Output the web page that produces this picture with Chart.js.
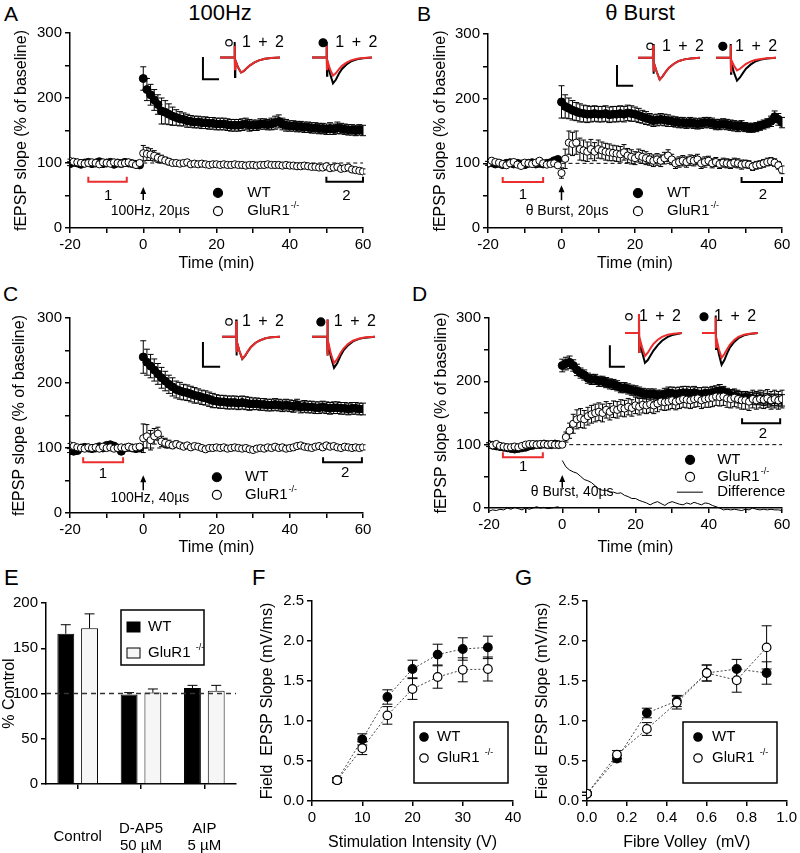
<!DOCTYPE html>
<html>
<head>
<meta charset="utf-8">
<script src="https://cdn.jsdelivr.net/npm/chart.js@4.4.1/dist/chart.umd.min.js"></script>
<style>
  body { margin: 0; background: #fff; width: 800px; height: 853px; position: relative; overflow: hidden;
         font-family: 'Liberation Sans', Arial, sans-serif; color: #000; }
  canvas { position: absolute; }
  .txt { position: absolute; line-height: 1; white-space: nowrap; }
</style>
</head>
<body>
<div class="txt" style="left:4px;top:3px;font-size:21px">A</div>
<div class="txt" style="left:417px;top:3px;font-size:21px">B</div>
<div class="txt" style="left:3px;top:283px;font-size:21px">C</div>
<div class="txt" style="left:412px;top:283px;font-size:21px">D</div>
<div class="txt" style="left:4px;top:567px;font-size:22px">E</div>
<div class="txt" style="left:252px;top:567px;font-size:22px">F</div>
<div class="txt" style="left:515px;top:567px;font-size:22px">G</div>
<div class="txt" style="left:160px;top:2px;width:120px;text-align:center;font-size:22px">100Hz</div>
<div class="txt" style="left:580px;top:2px;width:120px;text-align:center;font-size:22px">θ Burst</div>

<canvas id="cA" width="800" height="853"></canvas>
<canvas id="cB" width="800" height="853"></canvas>
<canvas id="cC" width="800" height="853"></canvas>
<canvas id="cD" width="800" height="853"></canvas>
<canvas id="cE" width="800" height="853"></canvas>
<canvas id="cF" width="800" height="853"></canvas>
<canvas id="cG" width="800" height="853"></canvas>

<canvas id="iA1" width="60" height="44" style="left:220px;top:42px"></canvas>
<canvas id="iA2" width="60" height="44" style="left:312px;top:42px"></canvas>
<canvas id="iB1" width="62" height="39" style="left:638px;top:44px"></canvas>
<canvas id="iB2" width="60" height="39" style="left:716px;top:44px"></canvas>
<canvas id="iC1" width="58" height="53" style="left:222px;top:318px"></canvas>
<canvas id="iC2" width="63" height="53" style="left:312px;top:318px"></canvas>
<canvas id="iD1" width="57" height="54" style="left:625px;top:314px"></canvas>
<canvas id="iD2" width="56" height="54" style="left:702px;top:314px"></canvas>

<script>
// time axis (min) shared by panels A-D
const minutes = [-20,-19,-18,-17,-16,-15,-14,-13,-12,-11,-10,-9,-8,-7,-6,-5,-4,-3,-2,-1,
  0,1,2,3,4,5,6,7,8,9,10,11,12,13,14,15,16,17,18,19,20,21,22,23,24,25,26,27,28,29,
  30,31,32,33,34,35,36,37,38,39,40,41,42,43,44,45,46,47,48,49,50,51,52,53,54,55,56,57,58,59,60];

// A: 100Hz, 20us
const aWT = [99,101,100,98,100,101,99,100,102,99,100,101,98,100,99,101,100,99,98,97,
  230,213,205,197,190,180,178,175,172,170, 168,167,165,164,163,163,162,162,161,161,
  160,160,160,159,158,158,158,159,160,158, 158,158,160,160,159,160,162,164,160,158,
  157,157,156,156,155,155,154,154,153,153, 152,153,152,154,153,152,151,151,150,151, 150];
const aWTErr = [3,3,3,3,3,3,3,3,3,3,3,3,3,3,3,3,3,3,3,3,
  18,17,16,16,15,20,18,16,14,12, 11,10,10,9,9,9,9,9,9,9, 9,9,9,9,9,9,9,9,9,9,
  8,8,8,8,8,9,10,10,9,9, 8,8,8,8,8,8,8,8,8,8, 8,9,8,9,8,8,8,8,8,8, 8];
const aKO = [103,102,101,100,99,100,101,100,98,101,100,99,101,100,99,100,101,99,97,100,
  115,114,113,111,108,106,104,102,100,100, 99,100,101,98,99,98,99,98,97,98,
  98,97,98,97,97,98,97,97,96,97, 97,96,97,97,98,97,97,97,96,97,
  96,96,95,95,96,95,94,94,93,93, 95,92,93,94,91,92,93,90,89,88, 87];
const aKOErr = [3,3,3,3,3,3,3,3,3,3,3,3,3,3,3,3,3,3,3,3,
  12,10,9,8,7,6,5,5,4,4, 4,4,4,4,4,4,4,4,4,4, 4,4,4,4,4,4,4,4,4,4,
  4,4,4,4,4,4,4,4,4,4, 4,4,4,4,4,4,4,4,4,4, 4,4,4,4,4,4,4,4,4,4, 4];

// B: theta burst, 20us
const bWT = [100,101,99,100,98,100,101,99,100,99,98,100,101,99,100,99,100,101,104,106,
  195,188,185,182,180,178,177,176,176,177, 176,176,177,175,176,176,177,176,178,177,
  176,174,172,170,168,166,167,168,167,166, 165,164,163,163,162,163,162,161,162,163,
  163,162,160,160,161,160,159,158,157,158, 156,155,155,156,158,160,162,165,172,168, 163];
const bWTErr = [3,3,3,3,3,3,3,3,3,3,3,3,3,3,3,3,3,3,3,3,
  25,18,16,15,14,14,13,13,12,12, 12,12,12,12,12,12,12,12,12,12, 11,11,10,10,9,9,9,9,9,9,
  8,8,8,8,8,8,8,8,8,8, 8,8,8,8,8,8,8,8,8,8, 7,7,7,7,7,7,7,8,9,9, 8];
const bKO = [100,104,102,101,99,97,100,102,98,96,101,100,99,101,104,100,98,99,100,97,
  85,107,132,130,132,122,120,118,122,118, 122,120,118,117,116,115,114,117,112,110,
  108,112,110,108,106,104,106,104,108,112, 106,100,102,104,102,105,104,106,100,102,
  104,100,102,99,101,100,99,101,100,98, 99,98,95,97,98,100,102,103,101,97, 90];
const bKOErr = [3,3,3,3,3,3,3,3,3,3,3,3,3,3,3,3,3,3,3,3,
  8,15,18,18,18,17,16,15,15,14, 14,13,13,13,12,12,12,12,11,11, 10,10,10,10,9,9,9,9,9,9,
  8,8,8,8,8,8,8,8,8,8, 7,7,7,7,7,7,7,7,7,7, 6,6,6,6,6,6,6,6,6,6, 6];

// C: 100Hz, 40us
const cWT = [96,95,96,100,101,100,99,100,102,100,104,105,103,100,95,100,101,100,99,100,
  240,232,226,220,214,208,203,198,194,190, 188,186,185,183,181,180,178,177,175,173,
  172,171,171,170,170,170,169,170,169,168, 168,168,167,167,166,166,167,166,165,166,
  165,164,166,163,164,163,163,162,162,163, 162,161,162,162,161,161,160,161,161,160, 160];
const cWTErr = [3,3,3,3,3,3,3,3,3,3,3,3,3,3,3,3,3,3,3,3,
  25,20,18,17,16,16,15,14,14,13, 13,12,12,12,12,11,11,11,11,11, 10,10,10,10,10,10,10,10,10,10,
  9,9,9,9,9,9,9,9,9,9, 9,9,9,9,9,9,9,9,9,9, 9,9,9,9,9,9,9,9,9,9, 9];
const cKO = [104,103,101,100,99,101,100,101,99,102,100,101,99,100,101,100,102,100,101,102,
  115,118,112,118,122,110,108,106,104,106, 104,102,104,101,103,102,100,98,100,100,
  101,100,101,99,100,101,100,99,100,98, 97,99,100,99,101,100,102,100,101,99,
  100,101,103,104,102,101,100,102,103,101, 104,102,103,101,100,102,101,100,101,100, 101];
const cKOErr = [3,3,3,3,3,3,3,3,3,3,3,3,3,3,3,3,3,3,3,3,
  22,18,15,12,10,8,7,6,5,5, 4,4,4,4,4,4,4,4,4,4, 4,4,4,4,4,4,4,4,4,4,
  4,4,4,4,4,4,4,4,4,4, 4,4,4,4,4,4,4,4,4,4, 4,4,4,4,4,4,4,4,4,4, 4];

// D: theta burst, 40us
const dWT = [100,99,98,97,96,95,94,93,94,95,96,98,99,100,100,101,100,100,101,100,
  225,228,230,225,218,213,210,205,203,203, 200,200,198,196,195,193,190,190,188,186,
  185,183,181,180,180,180,178,178,180,182, 181,180,181,182,182,181,182,180,180,181,
  180,182,183,185,183,180,178,177,175,174, 175,174,173,172,173,171,172,170,171,170, 170];
const dWTErr = [3,3,3,3,3,3,3,3,3,3,3,3,3,3,3,3,3,3,3,3,
  10,10,10,9,9,8,8,8,8,8, 8,8,8,8,8,8,8,8,8,8, 8,8,8,8,8,8,8,8,9,9,
  10,10,10,10,10,10,10,10,10,10, 10,10,10,10,9,9,9,9,9,9, 9,9,9,9,9,9,9,9,9,9, 9];
const dKO = [100,99,101,98,97,96,96,97,96,98,100,101,101,100,101,101,100,101,100,100,
  100,112,122,133,140,142,140,145,148,150, 152,150,155,152,156,155,158,157,160,158,
  162,160,163,162,164,162,165,168,167,168, 170,168,170,172,171,170,172,173,170,172,
  173,174,176,175,176,173,172,174,172,170, 170,168,172,170,172,171,173,170,172,170, 172];
const dKOErr = [3,3,3,3,3,3,3,3,3,3,3,3,3,3,3,3,3,3,3,3,
  4,8,12,15,15,15,14,14,14,14, 14,14,13,13,13,13,13,13,13,13, 13,13,13,13,13,13,13,13,13,13,
  13,13,13,13,13,13,13,13,13,13, 14,14,14,14,14,14,14,14,14,14, 14,14,14,14,14,14,14,14,14,14, 14];
const dDiffPre = [-5,-3,-4,-2,-3,0,-2,1,-1,-3,0,-2,0,2,0,1,-1,0,1,2];
const dDiffPost = [75,65,60,57,55,50,45,43,40,35, 30,28,28,25,25,23,24,20,18,15,
  15,12,10,8,5,8,10,7,4,8, 10,8,6,5,8,6,9,7,5,8, 7,4,2,0,-3,-2,-3,-2,-3,-4,
  -2,-3,0,-2,-3,-2,-3,-2,-3,-3, -4];

// E: % control
const eCats = [['Control'], ['D-AP5', '50 µM'], ['AIP', '5 µM']];
const eWT = [166, 99, 106];
const eWTErr = [10, 2, 3];
const eKO = [172, 101, 103];
const eKOErr = [16, 4, 6];

// F: input-output vs stimulation intensity
const stimV = [5, 10, 15, 20, 25, 30, 35];
const fWT = [0.26, 0.77, 1.30, 1.65, 1.83, 1.90, 1.92];
const fWTErr = [0.03, 0.07, 0.09, 0.11, 0.13, 0.14, 0.14];
const fKO = [0.26, 0.66, 1.07, 1.40, 1.55, 1.64, 1.65];
const fKOErr = [0.03, 0.08, 0.11, 0.13, 0.14, 0.15, 0.15];

// G: vs fibre volley
const volley = [0, 0.15, 0.30, 0.45, 0.60, 0.75, 0.90];
const gWT = [0.09, 0.53, 1.10, 1.25, 1.60, 1.65, 1.60];
const gWTErr = [0.02, 0.04, 0.06, 0.07, 0.10, 0.12, 0.14];
const gKO = [0.09, 0.58, 0.90, 1.23, 1.60, 1.51, 1.92];
const gKOErr = [0.02, 0.05, 0.08, 0.08, 0.10, 0.15, 0.27];

// example traces (1 = red, before; 2 = black, after)
const traceT = [0, 3, 4.8, 4.9, 5.0, 5.1, 6, 7, 8, 9, 10, 11.5, 13, 15, 17, 20];
const trA1red = [0,0,0,0.45,-0.45,-0.1,-0.38,-0.58,-0.52,-0.4,-0.3,-0.19,-0.11,-0.05,-0.02,0];
const trA1blk = [0,0,0,0.6,-0.75,-0.1,-0.38,-0.58,-0.52,-0.4,-0.3,-0.19,-0.11,-0.05,-0.02,0];
const trA2red = [0,0,0,0.45,-0.45,-0.1,-0.45,-0.7,-0.6,-0.45,-0.32,-0.2,-0.11,-0.05,-0.02,0];
const trA2blk = [0,0,0,0.6,-0.7,-0.15,-0.62,-1.0,-0.85,-0.62,-0.44,-0.27,-0.15,-0.07,-0.03,0];
const trB1red = [0,0,0,0.55,-0.6,-0.2,-0.6,-0.95,-0.8,-0.6,-0.43,-0.27,-0.15,-0.07,-0.03,0];
const trB1blk = [0,0,0,0.6,-0.7,-0.2,-0.6,-0.95,-0.8,-0.6,-0.43,-0.27,-0.15,-0.07,-0.03,0];
const trB2red = [0,0,0,0.55,-0.6,-0.1,-0.35,-0.55,-0.48,-0.37,-0.27,-0.17,-0.1,-0.05,-0.02,0];
const trB2blk = [0,0,0,0.6,-0.7,-0.2,-0.65,-1.0,-0.86,-0.66,-0.48,-0.3,-0.17,-0.08,-0.03,0];
const trC1red = [0,0,0,0.5,-0.5,-0.15,-0.45,-0.7,-0.6,-0.45,-0.33,-0.2,-0.12,-0.05,-0.02,0];
const trC1blk = [0,0,0,0.55,-0.6,-0.15,-0.46,-0.72,-0.61,-0.46,-0.33,-0.2,-0.12,-0.05,-0.02,0];
const trC2red = [0,0,0,0.55,-0.6,-0.15,-0.55,-0.85,-0.72,-0.53,-0.38,-0.23,-0.13,-0.06,-0.02,0];
const trC2blk = [0,0,0,0.55,-0.6,-0.2,-0.65,-1.0,-0.85,-0.62,-0.44,-0.27,-0.15,-0.07,-0.03,0];
const trD1red = [0,0,0,0.6,-0.6,-0.15,-0.45,-0.72,-0.62,-0.47,-0.34,-0.21,-0.12,-0.05,-0.02,0];
const trD1blk = [0,0,0,0.6,-0.6,-0.2,-0.6,-0.94,-0.85,-0.7,-0.55,-0.38,-0.24,-0.12,-0.05,0];
const trD2red = [0,0,0,0.5,-0.45,-0.15,-0.5,-0.78,-0.66,-0.5,-0.36,-0.22,-0.12,-0.05,-0.02,0];
const trD2blk = [0,0,0,0.55,-0.5,-0.2,-0.65,-1.0,-0.85,-0.63,-0.45,-0.28,-0.16,-0.07,-0.03,0];

const FONT = "'Liberation Sans', Arial, sans-serif";
const RED = '#ec2d2d';
Chart.defaults.font.family = FONT;
Chart.defaults.color = '#000';

const pts = (xs, ys) => xs.map((x, i) => ({ x: x, y: ys[i] }));

// error bars for any dataset that carries an `errors` array
Chart.register({
  id: 'errorBars',
  beforeDatasetsDraw(chart) {
    const ctx = chart.ctx;
    chart.data.datasets.forEach((ds, di) => {
      if (!ds.errors) return;
      const meta = chart.getDatasetMeta(di);
      const ys = chart.scales[meta.yAxisID];
      ctx.save();
      ctx.strokeStyle = '#000';
      ctx.lineWidth = ds.errWidth || 1;
      meta.data.forEach((el, i) => {
        const raw = ds.data[i];
        const v = (raw && typeof raw === 'object') ? raw.y : raw;
        const e = ds.errors[i];
        if (v == null || !e) return;
        const x = el.x, c = ds.capHalf || 3;
        const yT = ys.getPixelForValue(v + e);
        const yB = ys.getPixelForValue(ds.errDir === 'up' ? v : v - e);
        ctx.beginPath();
        ctx.moveTo(x, yT); ctx.lineTo(x, yB);
        ctx.moveTo(x - c, yT); ctx.lineTo(x + c, yT);
        if (ds.errDir !== 'up') { ctx.moveTo(x - c, yB); ctx.lineTo(x + c, yB); }
        ctx.stroke();
      });
      ctx.restore();
    });
  }
});

function frame(g) {
  return { left: g.L - g.W, top: g.T, right: 800 - g.R, bottom: 853 - g.B - g.H };
}

function linAxis(min, max, step, every, title, dec) {
  return {
    type: 'linear', min: min, max: max,
    ticks: {
      stepSize: step, autoSkip: false, maxRotation: 0, font: { size: 15 }, color: '#000',
      callback: v => Math.abs(v / every - Math.round(v / every)) < 1e-6 ? (dec != null ? v.toFixed(dec) : String(v)) : ''
    },
    grid: { drawOnChartArea: false, drawTicks: true, tickLength: 5, color: '#000', lineWidth: 1.5 },
    border: { display: true, color: '#000', width: 1.5 },
    title: { display: true, text: title, font: { size: 16 }, padding: 0, color: '#000' }
  };
}

function baseOpts(g, xs, ys) {
  xs.afterFit = s => { s.height = g.H; };
  ys.afterFit = s => { s.width = g.W; };
  return {
    responsive: false, animation: false, events: [],
    layout: { padding: frame(g) },
    plugins: { legend: { display: false }, tooltip: { enabled: false } },
    scales: { x: xs, y: ys }
  };
}

function circle(ctx, x, y, r, filled) {
  ctx.beginPath();
  ctx.arc(x, y, r, 0, Math.PI * 2);
  ctx.fillStyle = filled ? '#000' : '#fff';
  ctx.fill();
  ctx.lineWidth = 1.2;
  ctx.strokeStyle = '#000';
  ctx.stroke();
}

function label(ctx, text, x, y, size, align, sup, spacing) {
  ctx.font = size + 'px ' + FONT;
  ctx.fillStyle = '#000';
  ctx.textAlign = align || 'left';
  ctx.textBaseline = 'middle';
  if ('letterSpacing' in ctx) ctx.letterSpacing = spacing || '0px';
  ctx.fillText(text, x, y);
  if (sup) {
    const w = ctx.measureText(text).width;
    ctx.font = Math.round(size * 0.6) + 'px ' + FONT;
    ctx.textAlign = 'left';
    ctx.fillText(sup, x + w + 1, y - size * 0.35);
  }
  if ('letterSpacing' in ctx) ctx.letterSpacing = '0px';
}

// annotations of the time-course panels, placed in data units
function timeNotes(n) {
  return {
    id: 'timeNotes',
    beforeDatasetsDraw(chart) {
      const ctx = chart.ctx, X = v => chart.scales.x.getPixelForValue(v), Y = v => chart.scales.y.getPixelForValue(v);
      ctx.save();
      ctx.setLineDash([4, 3]);
      ctx.strokeStyle = '#000';
      ctx.lineWidth = 1;
      ctx.beginPath();
      ctx.moveTo(X(n.dash[0]), Y(n.dash[2]));
      ctx.lineTo(X(n.dash[1]), Y(n.dash[2]));
      ctx.stroke();
      ctx.restore();
    },
    afterDraw(chart) {
      const ctx = chart.ctx, X = v => chart.scales.x.getPixelForValue(v), Y = v => chart.scales.y.getPixelForValue(v);
      ctx.save();
      // brackets 1 and 2
      n.brackets.forEach(b => {
        ctx.strokeStyle = b.color;
        ctx.lineWidth = 2;
        ctx.beginPath();
        ctx.moveTo(X(b.x0), Y(b.y) - 5);
        ctx.lineTo(X(b.x0), Y(b.y));
        ctx.lineTo(X(b.x1), Y(b.y));
        ctx.lineTo(X(b.x1), Y(b.y) - 5);
        ctx.stroke();
        label(ctx, b.text, X(b.lx), Y(b.ly), 15, 'center');
      });
      // induction arrow
      const a = n.arrow, ax = X(a.x), tip = Y(a.y1);
      ctx.strokeStyle = '#000';
      ctx.lineWidth = 1.5;
      ctx.beginPath();
      ctx.moveTo(ax, Y(a.y0));
      ctx.lineTo(ax, tip + 5);
      ctx.stroke();
      ctx.fillStyle = '#000';
      ctx.beginPath();
      ctx.moveTo(ax, tip);
      ctx.lineTo(ax - 3, tip + 7);
      ctx.lineTo(ax + 3, tip + 7);
      ctx.closePath();
      ctx.fill();
      label(ctx, a.text, X(a.tx), Y(a.ty), 14, 'center');
      // legend
      n.legend.forEach(l => {
        if (l.line) {
          ctx.strokeStyle = '#000';
          ctx.lineWidth = 1;
          ctx.beginPath();
          ctx.moveTo(X(l.x0), Y(l.y));
          ctx.lineTo(X(l.x1), Y(l.y));
          ctx.stroke();
        } else {
          circle(ctx, X(l.x), Y(l.y), 4.5, l.filled);
        }
        label(ctx, l.text, X(l.tx), Y(l.y), 15, 'left', l.sup);
      });
      // scale bar of the traces
      const s = n.scaleBar;
      ctx.strokeStyle = '#000';
      ctx.lineWidth = 2;
      ctx.beginPath();
      ctx.moveTo(X(s.x), Y(s.y0));
      ctx.lineTo(X(s.x), Y(s.y1));
      ctx.lineTo(X(s.x1), Y(s.y1));
      ctx.stroke();
      // trace captions
      n.insets.forEach(c => {
        circle(ctx, X(c.x), Y(c.y), c.filled ? 4 : 3.2, c.filled);
        label(ctx, '1 + 2', X(c.tx) + 2, Y(c.y), 16, 'left', null, '1.5px');
      });
      ctx.restore();
    }
  };
}

function timeChart(id, g, ko, koErr, wt, wtErr, notes, extra) {
  const datasets = [
    { data: pts(minutes, ko), errors: koErr, capHalf: 2.5, pointRadius: 3.6,
      pointBackgroundColor: '#fff', pointBorderColor: '#000', pointBorderWidth: 1 },
    { data: pts(minutes, wt), errors: wtErr, capHalf: 3, pointRadius: 4,
      pointBackgroundColor: '#000', pointBorderColor: '#000', pointBorderWidth: 1 }
  ].concat(extra || []);
  new Chart(document.getElementById(id), {
    type: 'scatter',
    data: { datasets: datasets },
    options: baseOpts(g,
      linAxis(-20, 60, 10, 20, 'Time (min)'),
      linAxis(0, 300, 50, 100, 'fEPSP slope (% of baseline)')),
    plugins: [timeNotes(notes)]
  });
}

timeChart('cA', { L: 70, T: 33, R: 363, B: 228, W: 58, H: 45 }, aKO, aKOErr, aWT, aWTErr, {
  dash: [0, 60, 100],
  brackets: [{ x0: -15, x1: -4.5, y: 71, color: RED, text: '1', lx: -9.6, ly: 50 },
             { x0: 50, x1: 60, y: 71, color: '#000', text: '2', lx: 55.5, ly: 50 }],
  arrow: { x: 0, y0: 43, y1: 63, text: '100Hz, 20µs', tx: 1.9, ty: 26 },
  legend: [{ filled: true, x: 20.4, y: 54, text: 'WT', tx: 28.4 },
           { filled: false, x: 20.4, y: 26, text: 'GluR1', sup: '-/-', tx: 28.4 }],
  scaleBar: { x: 16.3, y0: 263, y1: 229, x1: 20.7 },
  insets: [{ filled: false, x: 23.4, y: 285, tx: 26.4 }, { filled: true, x: 49.1, y: 285, tx: 51.9 }]
});

timeChart('cB', { L: 488, T: 34, R: 782, B: 228, W: 57, H: 45 }, bKO, bKOErr, bWT, bWTErr, {
  dash: [0, 60, 100],
  brackets: [{ x0: -16, x1: -5, y: 71, color: RED, text: '1', lx: -10.5, ly: 52 },
             { x0: 49, x1: 60, y: 71, color: '#000', text: '2', lx: 54.8, ly: 52 }],
  arrow: { x: 0, y0: 43, y1: 66, text: 'θ Burst, 20µs', tx: 1.5, ty: 26 },
  legend: [{ filled: true, x: 20.8, y: 54, text: 'WT', tx: 28.7 },
           { filled: false, x: 20.8, y: 26, text: 'GluR1', sup: '-/-', tx: 28.7 }],
  scaleBar: { x: 15.1, y0: 252, y1: 220, x1: 19.5 },
  insets: [{ filled: false, x: 24.1, y: 281, tx: 26.8 }, { filled: true, x: 43.9, y: 281, tx: 46.7 }]
});

timeChart('cC', { L: 70, T: 318, R: 363, B: 513, W: 60, H: 44 }, cKO, cKOErr, cWT, cWTErr, {
  dash: [0, 60, 100],
  brackets: [{ x0: -16.4, x1: -5.5, y: 78, color: RED, text: '1', lx: -11, ly: 60 },
             { x0: 49.1, x1: 59.7, y: 78, color: '#000', text: '2', lx: 55.1, ly: 61 }],
  arrow: { x: 0, y0: 35, y1: 58, text: '100Hz, 40µs', tx: 1.8, ty: 23 },
  legend: [{ filled: true, x: 20.1, y: 55, text: 'WT', tx: 27.8 },
           { filled: false, x: 20.1, y: 28, text: 'GluR1', sup: '-/-', tx: 27.8 }],
  scaleBar: { x: 16.3, y0: 263, y1: 225, x1: 21 },
  insets: [{ filled: false, x: 23.4, y: 294, tx: 26.4 }, { filled: true, x: 48.5, y: 294, tx: 51.5 }]
});

timeChart('cD', { L: 489, T: 318, R: 782, B: 508, W: 57, H: 49 }, dKO, dKOErr, dWT, dWTErr, {
  dash: [0, 60, 100],
  brackets: [{ x0: -16.2, x1: -5.3, y: 80, color: RED, text: '1', lx: -10.7, ly: 65 },
             { x0: 49.1, x1: 59.5, y: 134, color: '#000', text: '2', lx: 54.8, ly: 117 }],
  arrow: { x: 0, y0: 32, y1: 52, text: 'θ Burst, 40µs', tx: 2.7, ty: 25 },
  legend: [{ filled: true, x: 34.9, y: 76, text: 'WT', tx: 42.3 },
           { filled: false, x: 34.9, y: 49, text: 'GluR1', sup: '-/-', tx: 42.3 },
           { line: true, x0: 31.3, x1: 38.4, y: 25, text: 'Difference', tx: 42.3 }],
  scaleBar: { x: 13.0, y0: 257, y1: 223, x1: 17.1 },
  insets: [{ filled: false, x: 18.2, y: 302, tx: 20.4 }, { filled: true, x: 38.7, y: 302, tx: 40.9 }]
}, [
  { data: pts(minutes.slice(0, 20), dDiffPre), showLine: true, pointRadius: 0, borderColor: '#000', borderWidth: 1, clip: false },
  { data: pts(minutes.slice(20), dDiffPost), showLine: true, pointRadius: 0, borderColor: '#000', borderWidth: 1, clip: false }
]);

// legend boxes of E, F, G (pixel layout)
function boxNotes(n) {
  return {
    id: 'boxNotes',
    afterDatasetsDraw(chart) {
      if (!n.dash) return;
      const ctx = chart.ctx, a = chart.chartArea, y = chart.scales.y.getPixelForValue(n.dash);
      ctx.save();
      ctx.setLineDash([5, 4]);
      ctx.strokeStyle = '#333';
      ctx.lineWidth = 1.5;
      ctx.beginPath();
      ctx.moveTo(a.left, y);
      ctx.lineTo(a.right, y);
      ctx.stroke();
      ctx.restore();
    },
    afterDraw(chart) {
      const ctx = chart.ctx, b = n.box;
      ctx.save();
      ctx.fillStyle = '#fff';
      ctx.fillRect(b[0], b[1], b[2] - b[0], b[3] - b[1]);
      ctx.strokeStyle = '#000';
      ctx.lineWidth = 1.5;
      ctx.strokeRect(b[0], b[1], b[2] - b[0], b[3] - b[1]);
      n.items.forEach(it => {
        if (it.square) {
          ctx.fillStyle = it.filled ? '#000' : '#f6f6f6';
          ctx.fillRect(it.mx - 6.5, it.my - 5, 13, 10);
          ctx.lineWidth = 1;
          ctx.strokeRect(it.mx - 6.5, it.my - 5, 13, 10);
        } else {
          circle(ctx, it.mx, it.my, 4.2, it.filled);
        }
        label(ctx, it.text, it.tx, it.my, 15, 'left', it.sup);
      });
      ctx.restore();
    }
  };
}

// E
(function () {
  const g = { L: 46, T: 603, R: 236, B: 784, W: 46, H: 69 };
  const xs = {
    type: 'category', offset: true,
    ticks: { autoSkip: false, maxRotation: 0, padding: 40, crossAlign: 'center', font: { size: 15, lineHeight: 1.1 }, color: '#000' },
    grid: { offset: false, drawOnChartArea: false, drawTicks: true, tickLength: 5, color: '#000', lineWidth: 1.5 },
    border: { display: true, color: '#000', width: 1.5 }
  };
  const ys = linAxis(0, 200, 50, 50, '% Control');
  new Chart(document.getElementById('cE'), {
    type: 'bar',
    data: {
      labels: eCats,
      datasets: [
        { data: eWT, errors: eWTErr, errDir: 'up', capHalf: 5, backgroundColor: '#000', borderColor: '#000', borderWidth: 1,
          categoryPercentage: 0.75, barPercentage: 0.71 },
        { data: eKO, errors: eKOErr, errDir: 'up', capHalf: 5, backgroundColor: '#f6f6f6', borderColor: '#000', borderWidth: 1,
          categoryPercentage: 0.75, barPercentage: 0.71 }
      ]
    },
    options: baseOpts(g, xs, ys),
    plugins: [boxNotes({
      dash: 100,
      box: [121, 610, 204, 665],
      items: [{ square: true, filled: true, mx: 133.5, my: 627, tx: 148, text: 'WT' },
              { square: true, filled: false, mx: 133.5, my: 653, tx: 148, text: 'GluR1 ', sup: '-/-' }]
    })]
  });
})();

function ioChart(id, g, xs, ys, xv, wt, wtErr, ko, koErr, notes) {
  const common = { showLine: true, borderColor: '#444', borderWidth: 1, borderDash: [2, 2], pointRadius: 4.3,
                   pointBorderColor: '#000', pointBorderWidth: 1.2, capHalf: 5 };
  new Chart(document.getElementById(id), {
    type: 'scatter',
    data: { datasets: [
      Object.assign({ data: pts(xv, ko), errors: koErr, pointBackgroundColor: '#fff' }, common),
      Object.assign({ data: pts(xv, wt), errors: wtErr, pointBackgroundColor: '#000' }, common)
    ] },
    options: baseOpts(g, xs, ys),
    plugins: [boxNotes(notes)]
  });
}

ioChart('cF', { L: 312, T: 601, R: 513, B: 801, W: 54, H: 51 },
  linAxis(0, 40, 10, 10, 'Stimulation Intensity (V)'),
  linAxis(0, 2.5, 0.5, 0.5, 'Field  EPSP Slope (mV/ms)', 1),
  stimV, fWT, fWTErr, fKO, fKOErr, {
    box: [414, 722, 508, 783],
    items: [{ filled: true, mx: 424, my: 737, tx: 437, text: 'WT' },
            { filled: false, mx: 424, my: 758, tx: 437, text: 'GluR1 ', sup: '-/-' }]
  });

ioChart('cG', { L: 587, T: 601, R: 790, B: 801, W: 54, H: 51 },
  linAxis(0, 1, 0.2, 0.2, 'Fibre Volley  (mV)', 1),
  linAxis(0, 2.5, 0.5, 0.5, 'Field  EPSP Slope (mV/ms)', 1),
  volley, gWT, gWTErr, gKO, gKOErr, {
    box: [683, 722, 777, 783],
    items: [{ filled: true, mx: 698, my: 737, tx: 712, text: 'WT' },
            { filled: false, mx: 698, my: 758, tx: 712, text: 'GluR1 ', sup: '-/-' }]
  });

// inset traces
function trace(id, red, black) {
  const line = c => ({ showLine: true, pointRadius: 0, borderColor: c, borderWidth: 2, clip: false });
  new Chart(document.getElementById(id), {
    type: 'scatter',
    data: { datasets: [
      Object.assign({ data: pts(traceT, red) }, line(RED)),
      Object.assign({ data: pts(traceT, black) }, line('#000'))
    ] },
    options: {
      responsive: false, animation: false, events: [],
      layout: { padding: 0 },
      plugins: { legend: { display: false }, tooltip: { enabled: false } },
      scales: { x: { type: 'linear', min: 0, max: 20, display: false },
                y: { min: -1.1, max: 0.6, display: false } }
    }
  });
}
trace('iA1', trA1red, trA1blk);
trace('iA2', trA2red, trA2blk);
trace('iB1', trB1red, trB1blk);
trace('iB2', trB2red, trB2blk);
trace('iC1', trC1red, trC1blk);
trace('iC2', trC2red, trC2blk);
trace('iD1', trD1red, trD1blk);
trace('iD2', trD2red, trD2blk);
</script>
</body>
</html>
